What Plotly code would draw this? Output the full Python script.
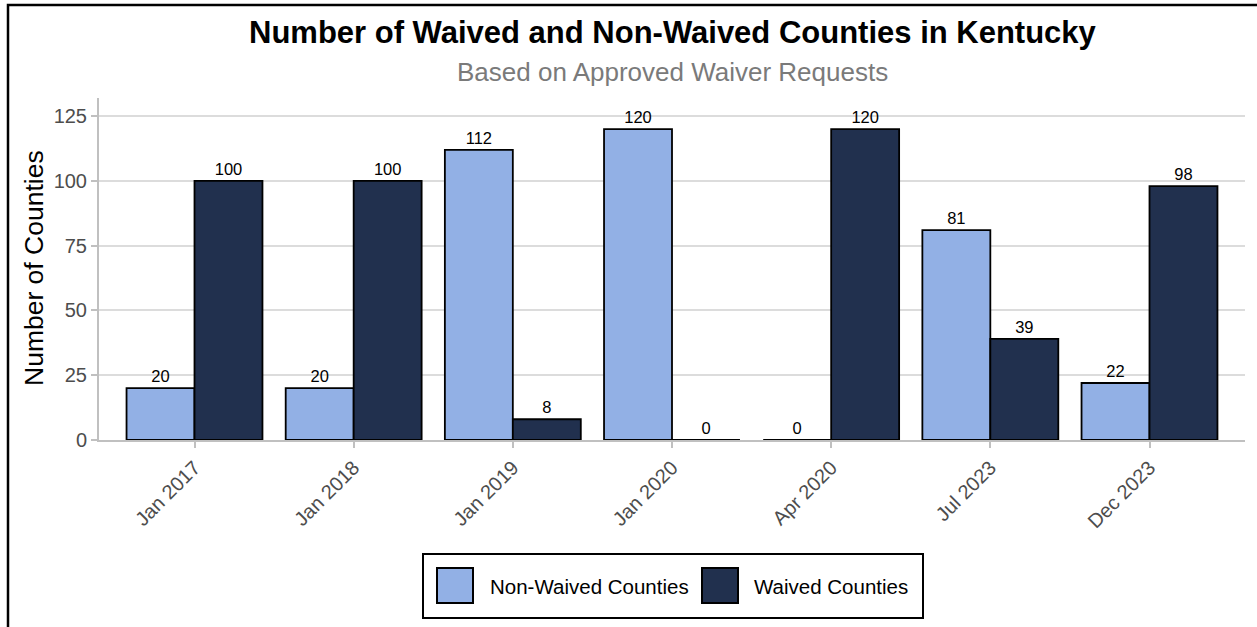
import plotly.graph_objects as go

categories = ["Jan 2017", "Jan 2018", "Jan 2019", "Jan 2020", "Apr 2020", "Jul 2023", "Dec 2023"]
non_waived = [20, 20, 112, 120, 0, 81, 22]
waived = [100, 100, 8, 0, 120, 39, 98]
series_names = ["Non-Waived Counties", "Waived Counties"]
series_colors = ["#92b0e5", "#21304e"]
y_ticks = [0, 25, 50, 75, 100, 125]

W, H = 1257, 627
L, R, T, B = 99, 12, 98, 187
pw = W - L - R
ph = H - T - B


def px_x(px):
    return (px - L) / pw


def px_y(py):
    return (H - B - py) / ph


FONT = "Liberation Sans, Arial, sans-serif"

fig = go.Figure()
for name, vals, col in zip(series_names, [non_waived, waived], series_colors):
    fig.add_trace(go.Bar(
        x=categories, y=vals, name=name,
        marker=dict(color=col, line=dict(color="black", width=1.8)),
        text=vals, texttemplate="%{text}", textposition="outside",
        textfont=dict(size=16.5, color="black", family=FONT),
        cliponaxis=False, showlegend=False,
    ))

shapes = [
    # outer frame
    dict(type="rect", xref="paper", yref="paper",
         x0=px_x(8), x1=px_x(1270), y0=px_y(640), y1=px_y(5),
         line=dict(color="black", width=2.5), fillcolor="rgba(0,0,0,0)", layer="above"),
    # legend box
    dict(type="rect", xref="paper", yref="paper",
         x0=px_x(423), x1=px_x(923), y0=px_y(618), y1=px_y(554),
         line=dict(color="black", width=2), fillcolor="white"),
]
annotations = [
    dict(text="<b>Number of Waived and Non-Waived Counties in Kentucky</b>",
         x=px_x(673), y=px_y(33), xref="paper", yref="paper", showarrow=False,
         font=dict(size=31, color="black", family=FONT), xanchor="center", yanchor="middle"),
    dict(text="Based on Approved Waiver Requests",
         x=px_x(672), y=px_y(72), xref="paper", yref="paper", showarrow=False,
         font=dict(size=26, color="#7a7a7a", family=FONT), xanchor="center", yanchor="middle"),
    dict(text="Number of Counties", textangle=-90,
         x=px_x(34), y=px_y(268), xref="paper", yref="paper", showarrow=False,
         font=dict(size=26.5, color="black", family=FONT), xanchor="center", yanchor="middle"),
]

sq_x = [437, 702]
txt_x = [488, 752]
for i, name in enumerate(series_names):
    shapes.append(dict(type="rect", xref="paper", yref="paper",
                       x0=px_x(sq_x[i]), x1=px_x(sq_x[i] + 36), y0=px_y(603), y1=px_y(568),
                       line=dict(color="black", width=2), fillcolor=series_colors[i]))
    annotations.append(dict(text=name, x=px_x(txt_x[i]), y=px_y(586), xref="paper", yref="paper",
                            showarrow=False, xanchor="left", yanchor="middle",
                            font=dict(size=20.5, color="black", family=FONT)))

fig.update_layout(
    width=W, height=H, autosize=False,
    margin=dict(l=L, r=R, t=T, b=B),
    plot_bgcolor="white", paper_bgcolor="white",
    barmode="group", bargap=0.146, bargroupgap=0,
    font=dict(family=FONT),
    shapes=shapes, annotations=annotations,
    xaxis=dict(range=[-0.6, 6.6], showgrid=False, showline=True, linecolor="#c0c0c0", linewidth=2,
               ticks="outside", ticklen=6, tickcolor="#c0c0c0", tickwidth=2,
               tickangle=-45, tickfont=dict(size=20, color="#4d4d4d", family=FONT), zeroline=False),
    yaxis=dict(range=[0, 132], tickvals=y_ticks, showgrid=True, gridcolor="#dcdcdc", gridwidth=1.5,
               showline=True, linecolor="#c0c0c0", linewidth=2, zeroline=False,
               ticks="outside", ticklen=6, tickcolor="#c0c0c0", tickwidth=2,
               tickfont=dict(size=20, color="#4d4d4d", family=FONT)),
)

fig.write_html("out.html")
